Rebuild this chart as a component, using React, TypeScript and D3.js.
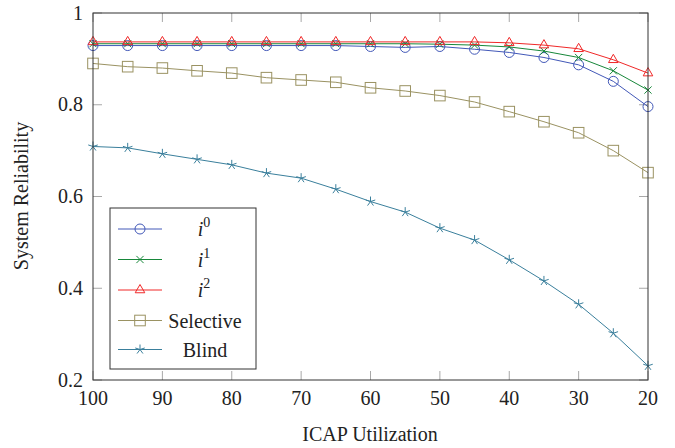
import React from "react";
import * as d3 from "d3";

// ICAP utilization (x axis runs from 100 down to 20)
const utilization = [100, 95, 90, 85, 80, 75, 70, 65, 60, 55, 50, 45, 40, 35, 30, 25, 20];

const i0 = [0.929, 0.929, 0.929, 0.929, 0.929, 0.929, 0.929, 0.929, 0.927, 0.925, 0.927, 0.921, 0.914, 0.903, 0.887, 0.851, 0.796];
const i1 = [0.933, 0.933, 0.933, 0.933, 0.933, 0.933, 0.933, 0.933, 0.933, 0.933, 0.932, 0.930, 0.926, 0.917, 0.903, 0.874, 0.832];
const i2 = [0.937, 0.937, 0.937, 0.937, 0.937, 0.937, 0.937, 0.937, 0.937, 0.937, 0.937, 0.937, 0.935, 0.930, 0.922, 0.898, 0.869];
const selective = [0.890, 0.883, 0.880, 0.874, 0.869, 0.859, 0.854, 0.849, 0.837, 0.830, 0.820, 0.806, 0.785, 0.763, 0.739, 0.700, 0.652];
const blind = [0.709, 0.706, 0.693, 0.681, 0.669, 0.651, 0.640, 0.616, 0.589, 0.566, 0.531, 0.505, 0.462, 0.416, 0.365, 0.302, 0.231];

const xTicks = [100, 90, 80, 70, 60, 50, 40, 30, 20];
const yTicks = [0.2, 0.4, 0.6, 0.8, 1];

const series = [
  { name: "i0", sup: "0", values: i0, color: "#4258b8", mark: "circle" },
  { name: "i1", sup: "1", values: i1, color: "#17873a", mark: "cross" },
  { name: "i2", sup: "2", values: i2, color: "#f02828", mark: "triangle" },
  { name: "Selective", sup: null, values: selective, color: "#9a9262", mark: "square" },
  { name: "Blind", sup: null, values: blind, color: "#3a7f9c", mark: "star" },
];

const txt = { fontFamily: '"Liberation Serif", "DejaVu Serif", serif' };

const Marker = ({ type, x, y, color }) => {
  if (type === "circle") {
    return <circle cx={x} cy={y} r={5} fill="none" stroke={color} strokeWidth={1} />;
  }
  if (type === "cross") {
    const s = 3.6;
    return (
      <path d={`M${x - s},${y - s}L${x + s},${y + s}M${x - s},${y + s}L${x + s},${y - s}`}
        stroke={color} strokeWidth={1} fill="none" />
    );
  }
  if (type === "triangle") {
    const s = 5.5;
    return (
      <path d={`M${x},${y - s}L${x + s * 0.87},${y + s * 0.5}L${x - s * 0.87},${y + s * 0.5}Z`}
        stroke={color} strokeWidth={1} fill="none" />
    );
  }
  if (type === "square") {
    const s = 5.3;
    return <rect x={x - s} y={y - s} width={2 * s} height={2 * s} fill="none" stroke={color} strokeWidth={1} />;
  }
  // five-armed star
  const r = 5;
  let d = "";
  for (let k = 0; k < 5; k++) {
    const a = -Math.PI / 2 + (k * 2 * Math.PI) / 5;
    d += `M${x},${y}L${x + r * Math.cos(a)},${y + r * Math.sin(a)}`;
  }
  return <path d={d} stroke={color} strokeWidth={1} fill="none" />;
};

const App = () => {
  const width = 675;
  const height = 448;
  const left = 93, right = 648, top = 13, bottom = 380;

  const x = d3.scaleLinear().domain([100, 20]).range([left, right]);
  const y = d3.scaleLinear().domain([0.2, 1]).range([bottom, top]);

  const line = d3.line<number>()
    .x((_, i) => x(utilization[i]))
    .y((d) => y(d));

  const tickLen = 9;
  const legend = { x: 110, y: 208, w: 146, h: 161 };
  const rowY = [229, 259.5, 290, 320.5, 349.5];

  return (
    <svg width={width} height={height} style={{ position: "absolute", left: 0, top: 0 }}>
      <rect width={width} height={height} fill="#fff" />

      {/* ticks, inward on all four sides */}
      <g stroke="#a8a8a8" strokeWidth={1}>
        {xTicks.map((t) => (
          <g key={"xt" + t}>
            <line x1={x(t)} x2={x(t)} y1={bottom} y2={bottom - tickLen} />
            <line x1={x(t)} x2={x(t)} y1={top} y2={top + tickLen} />
          </g>
        ))}
        {yTicks.map((t) => (
          <g key={"yt" + t}>
            <line x1={left} x2={left + tickLen} y1={y(t)} y2={y(t)} />
            <line x1={right} x2={right - tickLen} y1={y(t)} y2={y(t)} />
          </g>
        ))}
      </g>

      {/* series */}
      {series.map((s) => (
        <g key={s.name}>
          <path d={line(s.values) || ""} fill="none" stroke={s.color} strokeWidth={1} />
          {s.values.map((v, i) => (
            <Marker key={i} type={s.mark} x={x(utilization[i])} y={y(v)} color={s.color} />
          ))}
        </g>
      ))}

      <rect x={left} y={top} width={right - left} height={bottom - top} fill="none" stroke="#333" strokeWidth={1} />

      {/* tick labels */}
      {xTicks.map((t) => (
        <text key={"xl" + t} x={x(t)} y={405} textAnchor="middle" fontSize={20} fill="#222" style={txt}>{t}</text>
      ))}
      {yTicks.map((t) => (
        <text key={"yl" + t} x={83} y={y(t) + 6.5} textAnchor="end" fontSize={20} fill="#222" style={txt}>
          {t === 1 ? "1" : t.toFixed(1)}
        </text>
      ))}

      <text x={370} y={441} textAnchor="middle" fontSize={20} fill="#222" style={txt}>ICAP Utilization</text>
      <text transform="translate(28,196) rotate(-90)" textAnchor="middle" fontSize={20} fill="#222" style={txt}>System Reliability</text>

      {/* legend */}
      <rect x={legend.x} y={legend.y} width={legend.w} height={legend.h} fill="#fff" stroke="#333" strokeWidth={1} />
      {series.map((s, i) => (
        <g key={"lg" + s.name}>
          <line x1={118} x2={162} y1={rowY[i]} y2={rowY[i]} stroke={s.color} strokeWidth={1} />
          <Marker type={s.mark} x={140} y={rowY[i]} color={s.color} />
          {s.sup ? (
            <text x={204} y={rowY[i] + 7} textAnchor="middle" fontSize={20} fill="#222" style={txt}>
              <tspan fontStyle="italic">i</tspan>
              <tspan fontSize={14} dy={-9}>{s.sup}</tspan>
            </text>
          ) : (
            <text x={205} y={rowY[i] + 7} textAnchor="middle" fontSize={20} fill="#222" style={txt}>{s.name}</text>
          )}
        </g>
      ))}
    </svg>
  );
};

export default App;
